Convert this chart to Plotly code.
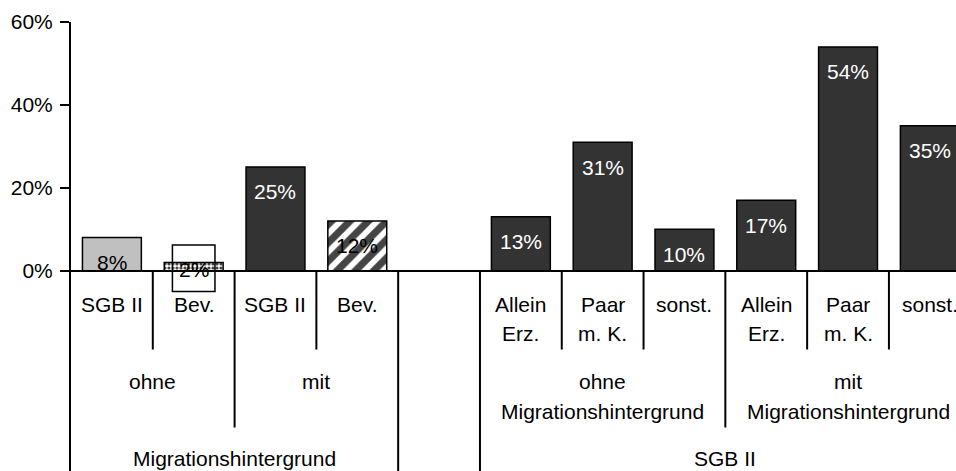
import plotly.graph_objects as go

# bar slots (slot 4 is an empty gap between the two blocks)
slot_labels = ["SGB II", "Bev.", "SGB II", "Bev.", "",
               "Allein<br>Erz.", "Paar<br>m. K.", "sonst.",
               "Allein<br>Erz.", "Paar<br>m. K.", "sonst."]
values = [8, 2, 25, 12, None, 13, 31, 10, 17, 54, 35]
value_text = ["8%", "2%", "25%", "12%", "", "13%", "31%", "10%", "17%", "54%", "35%"]

# second and third label rows: (text, first slot, last slot)
groups_mid = [("ohne", 0, 1), ("mit", 2, 3),
              ("ohne<br>Migrationshintergrund", 5, 7),
              ("mit<br>Migrationshintergrund", 8, 10)]
groups_top = [("Migrationshintergrund", 0, 3), ("SGB II", 5, 10)]

# the little label frame around "2%"
frame_x = [1]
frame_lo = [-5.0]
frame_hi = [6.2]

y_ticks = [0, 20, 40, 60]
y_ticktext = ["0%", "20%", "40%", "60%"]

dark = "#333333"
fills = ["#c0c0c0", "white", dark, "white", dark, dark, dark, dark, dark, dark, dark]
patterns = ["", ".", "", "/", "", "", "", "", "", "", ""]
pattern_fg = {".": "#b0b0b0", "/": "black"}
text_colors = ["black", "black", "white", "black", "white",
               "white", "white", "white", "white", "white", "white"]

FONT = "Liberation Sans, Arial, sans-serif"
FS = 21
Y_MIN = -48.3
ROW1 = [-8.1, -15.2]     # two text lines of the first label row
ROW2 = [-26.7, -34.0]
ROW3 = -45.4
DEPTH = {1: -19.0, 2: -37.8, 3: Y_MIN}

xs = list(range(len(slot_labels)))

fig = go.Figure()
for pat in ["", ".", "/"]:
    idx = [i for i in xs if values[i] is not None and patterns[i] == pat]
    if not idx:
        continue
    marker = dict(color=[fills[i] for i in idx], line=dict(color="black", width=1.5))
    if pat:
        marker["pattern"] = dict(shape=pat, fgcolor=pattern_fg[pat], bgcolor="white",
                                 fgopacity=1,
                                 size=13 if pat == "/" else 4,
                                 solidity=0.55 if pat == "/" else 0.5)
    fig.add_trace(go.Bar(x=idx, y=[values[i] for i in idx], width=0.72,
                         marker=marker, hoverinfo="skip"))

fig.add_trace(go.Bar(
    x=frame_x, base=frame_lo, y=[h - l for h, l in zip(frame_hi, frame_lo)],
    width=0.52, marker=dict(color="rgba(0,0,0,0)", line=dict(color="black", width=1.5)),
    hoverinfo="skip"))

# value labels inside the bars
for x, v, t, c in zip(xs, values, value_text, text_colors):
    if v is None:
        continue
    fig.add_annotation(x=x, y=max(v - 6, 0.4), text=t, showarrow=False,
                       font=dict(size=FS, color=c, family=FONT), yanchor="middle")

# first label row
for x, lab in zip(xs, slot_labels):
    for k, line in enumerate(lab.split("<br>")):
        if line:
            fig.add_annotation(x=x, y=ROW1[k], text=line, showarrow=False,
                               font=dict(size=FS, color="black", family=FONT))
# second label row
for lab, a, b in groups_mid:
    for k, line in enumerate(lab.split("<br>")):
        fig.add_annotation(x=(a + b) / 2, y=ROW2[k], text=line, showarrow=False,
                           font=dict(size=FS, color="black", family=FONT))
# third label row
for lab, a, b in groups_top:
    fig.add_annotation(x=(a + b) / 2, y=ROW3, text=lab, showarrow=False,
                       font=dict(size=FS, color="black", family=FONT))

# divider lines under the axis, depth depends on the grouping level
ends = {}
for x in xs[1:]:
    ends[x - 0.5] = 1
for lab, a, b in groups_mid:
    ends[b + 0.5] = 2
for lab, a, b in groups_top:
    ends[a - 0.5] = 3
    ends[b + 0.5] = 3
for xd, lvl in ends.items():
    if xd <= -0.5 or xd >= len(xs) - 0.5:
        continue
    fig.add_shape(type="line", xref="x", yref="y", x0=xd, x1=xd, y0=0, y1=DEPTH[lvl],
                  line=dict(color="black", width=2))

fig.update_layout(
    width=956, height=471,
    margin=dict(l=71, r=0, t=22, b=0),
    plot_bgcolor="white", paper_bgcolor="white",
    showlegend=False, barmode="overlay",
    font=dict(family=FONT, size=FS, color="black"),
    xaxis=dict(range=[-0.5, 10.32], showticklabels=False, showgrid=False,
               zeroline=False, showline=False, ticks=""),
    yaxis=dict(range=[Y_MIN, 60], tickmode="array", tickvals=y_ticks, ticktext=y_ticktext,
               showgrid=False, zeroline=True, zerolinecolor="black", zerolinewidth=2,
               showline=True, linecolor="black", linewidth=2,
               ticks="outside", ticklen=9, tickwidth=2, tickcolor="black",
               ticklabelstandoff=3,
               tickfont=dict(size=FS, color="black", family=FONT)),
)

# page without the default body margin, so the figure sits at the window corner
fig.write_html("out.html", config={"displayModeBar": False},
               post_script="document.body.style.margin='0';"
                           "document.body.style.overflow='hidden';")
